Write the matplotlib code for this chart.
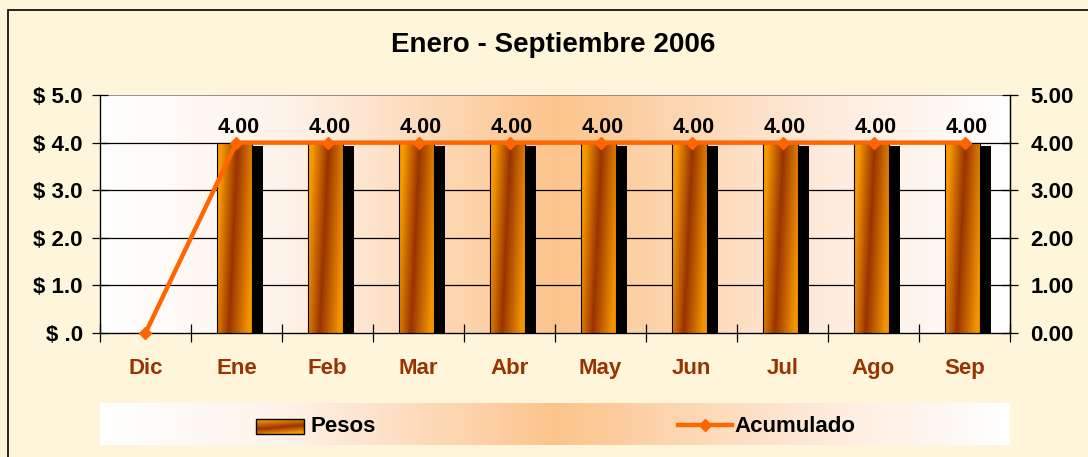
# Enero - Septiembre 2006: Pesos (bars) y Acumulado (line)
import numpy as np
import matplotlib.pyplot as plt
from matplotlib.colors import LinearSegmentedColormap
from matplotlib.patches import Rectangle
from matplotlib.lines import Line2D

plt.rcParams['font.family'] = ['Liberation Sans', 'DejaVu Sans']
plt.rcParams['font.weight'] = 'bold'

# Data
meses = ['Dic', 'Ene', 'Feb', 'Mar', 'Abr', 'May', 'Jun', 'Jul', 'Ago', 'Sep']
pesos = [0, 4, 4, 4, 4, 4, 4, 4, 4, 4]
acumulado = [0, 4, 4, 4, 4, 4, 4, 4, 4, 4]
etiquetas = ['', '4.00', '4.00', '4.00', '4.00', '4.00', '4.00', '4.00', '4.00', '4.00']
y_izq = ['$ .0', '$ 1.0', '$ 2.0', '$ 3.0', '$ 4.0', '$ 5.0']
y_der = ['0.00', '1.00', '2.00', '3.00', '4.00', '5.00']

W, H = 1088, 457
fig = plt.figure(figsize=(W / 100, H / 100), dpi=100)
fig.patch.set_facecolor('#FEF5DA')

# border of the chart area
fig.patches.append(Rectangle((8 / W, -0.05), 1.1, 1 - 10 / H + 0.05, transform=fig.transFigure,
                             fill=False, edgecolor='black', linewidth=1.2))

# background gradient (white - peach - white)
fondo = LinearSegmentedColormap.from_list(
    'fondo', [(0, '#FFFFFF'), (0.2, '#FEF3EA'), (0.5, '#FCC48D'), (0.8, '#FEEBDC'), (1, '#FFFFFF')])
grad_h = np.linspace(0, 1, 256).reshape(1, -1)

ax = fig.add_axes([100 / W, (H - 333) / H, 910 / W, 238 / H])
ax.set_xlim(-0.5, 9.5)
ax.set_ylim(0, 5)
ax.imshow(grad_h, cmap=fondo, aspect='auto', extent=(-0.5, 9.5, 0, 5), zorder=0)

x = np.arange(len(meses))

# grid lines
for v in range(1, 5):
    ax.axhline(v, color='black', linewidth=0.9, zorder=1)
ax.axhline(5, color='#808080', linewidth=1.2, zorder=1)

# bars: shadow + gradient fill
ancho = 0.385
ax.bar(x + 0.1, np.array(pesos) * 0.98, width=ancho, color='black', zorder=2)
barras = ax.bar(x - 0.02, pesos, width=ancho, facecolor='none', edgecolor='black',
                linewidth=0.8, zorder=4)
barra_cmap = LinearSegmentedColormap.from_list(
    'barra', [(0, '#F79A00'), (0.45, '#993300'), (1, '#F39400')])
uu, vv = np.meshgrid(np.linspace(0, 1, 64), np.linspace(0, 1, 64))
grad_b = np.clip(uu - 0.25 * (vv - 0.5), 0, 1)
for b in barras:
    if b.get_height() <= 0:
        continue
    x0, y0 = b.get_x(), b.get_y()
    im = ax.imshow(grad_b, cmap=barra_cmap, aspect='auto', origin='lower',
                   extent=(x0, x0 + b.get_width(), y0, y0 + b.get_height()), zorder=3)
    im.set_clip_path(b)

# data labels
for xi, v, t in zip(x, pesos, etiquetas):
    if t:
        ax.text(xi + 0.02, v + 0.09, t, ha='center', va='bottom', fontsize=15.5,
                fontweight='bold', color='black', zorder=6)

# left axis
ax.set_yticks(range(6))
ax.set_yticklabels(y_izq, fontsize=16, fontweight='bold')
ax.tick_params(axis='y', direction='inout', length=11, width=0.9, pad=7)
ax.set_xticks(x)
ax.set_xticklabels(meses, fontsize=16, fontweight='bold', color='#993300')
ax.tick_params(axis='x', length=0, pad=18)
ax.set_xticks(np.arange(-0.5, 10, 1), minor=True)
ax.tick_params(axis='x', which='minor', direction='inout', length=13, width=0.9)
for s in ['left', 'bottom', 'right']:
    ax.spines[s].set_color('black')
    ax.spines[s].set_linewidth(0.9)
ax.spines['top'].set_visible(False)

# right axis with the line
ax2 = ax.twinx()
ax2.set_ylim(0, 5)
ax2.set_yticks(range(6))
ax2.set_yticklabels(y_der, fontsize=16, fontweight='bold')
ax2.tick_params(axis='y', direction='inout', length=11, width=0.9, pad=9)
ax2.spines['top'].set_visible(False)
ax2.spines['right'].set_linewidth(0.9)
ax2.plot(x, acumulado, color='#FF6600', linewidth=3.2, marker='D', markersize=6,
         markeredgecolor='#FF6600', zorder=5, clip_on=False)

# title
fig.text(553 / W, 1 - 45 / H, 'Enero - Septiembre 2006', ha='center', va='center',
         fontsize=20, fontweight='bold')

# legend box
lg = fig.add_axes([100 / W, (H - 445) / H, 910 / W, 42 / H])
lg.set_xlim(0, 910)
lg.set_ylim(0, 42)
lg.imshow(grad_h, cmap=fondo, aspect='auto', extent=(0, 910, 0, 42), zorder=0)
lg.axis('off')
parche = Rectangle((156, 11), 48, 15, facecolor='none', edgecolor='black', linewidth=1.0, zorder=3)
lg.add_patch(parche)
im = lg.imshow(grad_b.T, cmap=barra_cmap, aspect='auto', origin='lower',
               extent=(156, 204, 11, 26), zorder=2)
im.set_clip_path(parche)
lg.text(211, 18, 'Pesos', ha='left', va='center', fontsize=16, fontweight='bold')
lg.add_line(Line2D([578, 632], [20, 20], color='#FF6600', linewidth=3.2))
lg.add_line(Line2D([605], [20], color='#FF6600', marker='D', markersize=6))
lg.text(634, 18, 'Acumulado', ha='left', va='center', fontsize=16, fontweight='bold')

fig.savefig('out.png', dpi=100, facecolor=fig.get_facecolor())
